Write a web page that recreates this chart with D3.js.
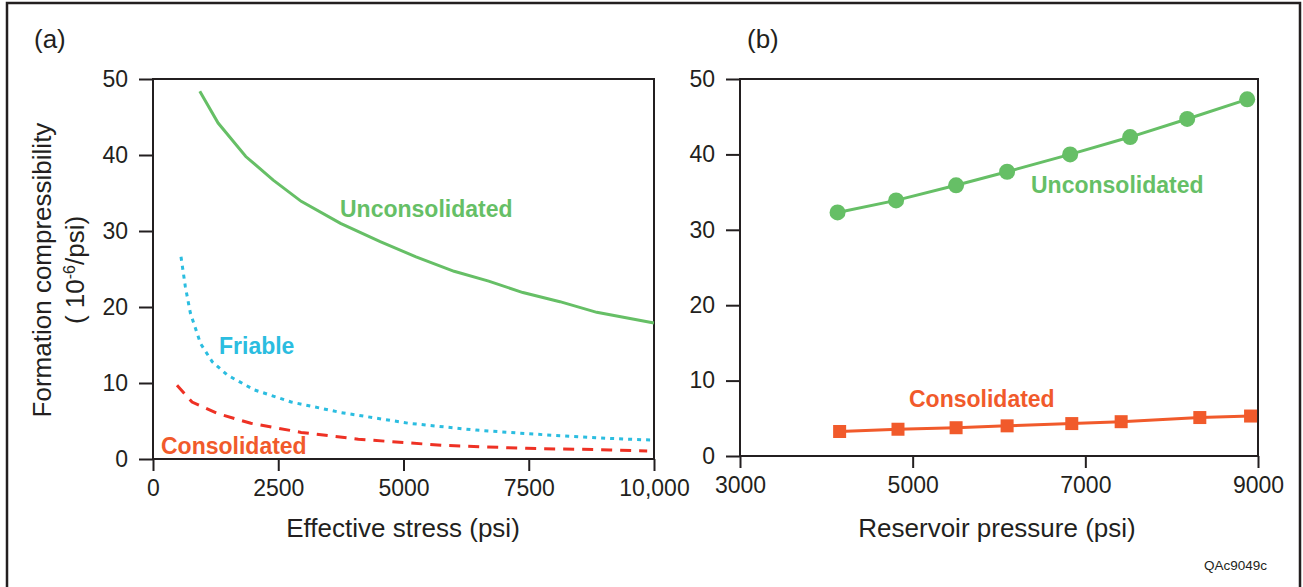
<!DOCTYPE html>
<html lang="en">
<head>
<meta charset="UTF-8" />
<title>Formation compressibility</title>
<script src="https://d3js.org/d3.v7.min.js"></script>
<style>
  body { margin: 0; background: white; }
  svg { display: block; font-family: "Liberation Sans", Arial, sans-serif; }
  .axis-title { font-size: 26px; fill: #231f20; }
  .series-label { font-size: 23px; font-weight: bold; }
</style>
</head>
<body>
<svg id="chart" width="1303" height="587"></svg>
<script>
// --- data (a): compressibility vs effective stress
const unconStress = [934, 1300, 1852, 2400, 2958, 3743, 4535, 5250, 6010, 6700, 7383, 8122, 8858, 10000];
const unconComp   = [48.4, 44.2, 39.8, 36.7, 33.9, 31.0, 28.6, 26.6, 24.7, 23.4, 21.9, 20.7, 19.3, 17.9];
const friableStress = [559, 645, 746, 948, 1182, 1483, 2020, 2758, 3762, 5104, 6445, 7786, 9128, 9932];
const friableComp   = [26.6, 22.7, 19.2, 15.2, 12.8, 11.05, 9.1, 7.5, 6.1, 4.7, 3.8, 3.2, 2.7, 2.5];
const consStress = [479, 780, 1283, 1952, 2958, 4098, 5774, 7450, 9128, 9864];
const consComp   = [9.7, 7.5, 6.0, 4.7, 3.5, 2.6, 1.8, 1.4, 1.2, 1.05];

// --- data (b): compressibility vs reservoir pressure
const unconPressure = [4130, 4808, 5503, 6094, 6824, 7519, 8180, 8875];
const unconPComp    = [32.3, 33.9, 35.9, 37.7, 40.0, 42.3, 44.7, 47.3];
const consPressure  = [4154, 4830, 5503, 6094, 6843, 7415, 8326, 8914];
const consPComp     = [3.25, 3.55, 3.75, 4.0, 4.3, 4.55, 5.1, 5.3];

const yTicks = [0, 10, 20, 30, 40, 50];
const xTicksA = [0, 2500, 5000, 7500, 10000];
const xTicksB = [3000, 5000, 7000, 9000];

const green = "#66bf66", cyan = "#2bbde0", red = "#ee3124", orange = "#f15a2b", ink = "#231f20";

const svg = d3.select("#chart");

// outer frame (open at the bottom)
svg.append("path")
  .attr("d", "M7,600 V3 H1300 V600")
  .attr("fill", "none").attr("stroke", ink).attr("stroke-width", 2.5);

function panel(x0, x1, yTop, yBottom, xDomain, xTicks, fmt) {
  const x = d3.scaleLinear().domain(xDomain).range([x0, x1]);
  const y = d3.scaleLinear().domain([0, 50]).range([yBottom, yTop]);
  const g = svg.append("g");
  g.append("rect").attr("x", x0).attr("y", yTop).attr("width", x1 - x0).attr("height", yBottom - yTop)
    .attr("fill", "none").attr("stroke", ink).attr("stroke-width", 2);

  const ya = g.append("g").attr("transform", `translate(${x0},0)`)
    .call(d3.axisLeft(y).tickValues(yTicks).tickSize(14).tickPadding(11));
  const xa = g.append("g").attr("transform", `translate(0,${yBottom})`)
    .call(d3.axisBottom(x).tickValues(xTicks).tickSize(12).tickPadding(9).tickFormat(fmt));
  [ya, xa].forEach(a => {
    a.select(".domain").remove();
    a.selectAll("line").attr("stroke", ink).attr("stroke-width", 2);
    a.selectAll("text").attr("fill", ink)
      .style("font-family", "'Liberation Sans', Arial, sans-serif").style("font-size", "23px");
  });
  return { g, x, y };
}

// ---- panel (a)
const A = panel(153, 654, 79, 459, [0, 10000], xTicksA, d => d === 10000 ? "10,000" : d);
const lineA = (xs, ys) => d3.line().x((d, i) => A.x(xs[i])).y((d, i) => A.y(ys[i]))(xs);

A.g.append("path").attr("d", lineA(unconStress, unconComp))
  .attr("fill", "none").attr("stroke", green).attr("stroke-width", 3);
A.g.append("path").attr("d", lineA(friableStress, friableComp))
  .attr("fill", "none").attr("stroke", cyan).attr("stroke-width", 3).attr("stroke-dasharray", "4,5");
A.g.append("path").attr("d", lineA(consStress, consComp))
  .attr("fill", "none").attr("stroke", red).attr("stroke-width", 3).attr("stroke-dasharray", "11,8");

A.g.append("text").attr("class", "series-label").attr("fill", green)
  .attr("x", 340).attr("y", 217).text("Unconsolidated");
A.g.append("text").attr("class", "series-label").attr("fill", cyan)
  .attr("x", 219).attr("y", 354).text("Friable");
A.g.append("text").attr("class", "series-label").attr("fill", orange)
  .attr("x", 161).attr("y", 454).text("Consolidated");

svg.append("text").attr("class", "axis-title").attr("x", 403).attr("y", 537)
  .attr("text-anchor", "middle").text("Effective stress (psi)");
const yt = svg.append("text").attr("class", "axis-title").attr("text-anchor", "middle")
  .attr("transform", "translate(51,270) rotate(-90)");
yt.append("tspan").attr("x", 0).attr("y", 0).text("Formation compressibility");
const yt2 = yt.append("tspan").attr("x", 0).attr("y", 33);
yt2.append("tspan").text("( 10");
yt2.append("tspan").attr("dy", -9).style("font-size", "16px").text("-6");
yt2.append("tspan").attr("dy", 9).text("/psi)");

svg.append("text").attr("class", "axis-title").attr("x", 34).attr("y", 48).text("(a)");

// ---- panel (b)
const B = panel(740, 1258, 79, 456, [3000, 9000], xTicksB, d => d);
const lineB = (xs, ys) => d3.line().x((d, i) => B.x(xs[i])).y((d, i) => B.y(ys[i]))(xs);

B.g.append("path").attr("d", lineB(unconPressure, unconPComp))
  .attr("fill", "none").attr("stroke", green).attr("stroke-width", 3);
B.g.selectAll("circle").data(unconPressure).join("circle")
  .attr("cx", d => B.x(d)).attr("cy", (d, i) => B.y(unconPComp[i])).attr("r", 8).attr("fill", green);

B.g.append("path").attr("d", lineB(consPressure, consPComp))
  .attr("fill", "none").attr("stroke", orange).attr("stroke-width", 3);
B.g.selectAll("rect.sq").data(consPressure).join("rect").attr("class", "sq")
  .attr("x", d => B.x(d) - 6.5).attr("y", (d, i) => B.y(consPComp[i]) - 6.5)
  .attr("width", 13).attr("height", 13).attr("fill", orange);

B.g.append("text").attr("class", "series-label").attr("fill", green)
  .attr("x", 1031).attr("y", 193).text("Unconsolidated");
B.g.append("text").attr("class", "series-label").attr("fill", orange)
  .attr("x", 909).attr("y", 407).text("Consolidated");

svg.append("text").attr("class", "axis-title").attr("x", 997).attr("y", 537)
  .attr("text-anchor", "middle").text("Reservoir pressure (psi)");
svg.append("text").attr("class", "axis-title").attr("x", 747).attr("y", 48).text("(b)");

svg.append("text").attr("x", 1267).attr("y", 570).attr("text-anchor", "end")
  .style("font-size", "13.5px").attr("fill", ink).text("QAc9049c");
</script>
</body>
</html>
